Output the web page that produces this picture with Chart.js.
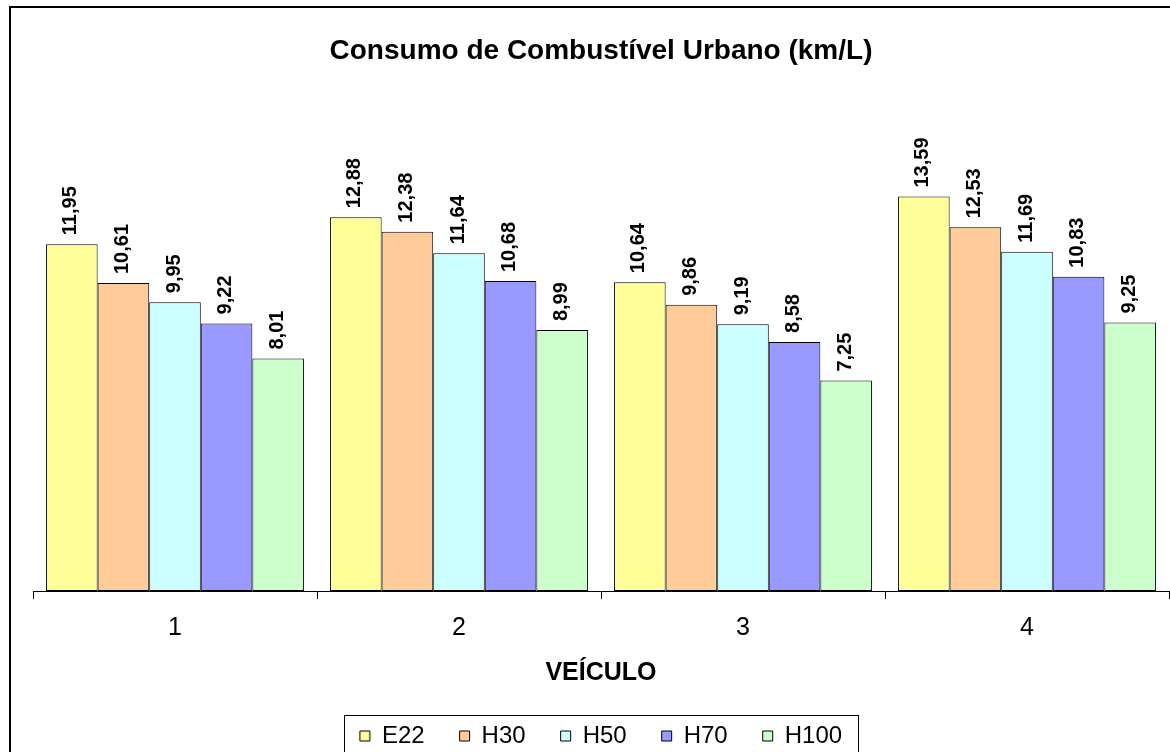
<!DOCTYPE html>
<html lang="pt">
<head>
<meta charset="UTF-8">
<title>Consumo de Combustível Urbano</title>
<script src="https://cdn.jsdelivr.net/npm/chart.js"></script>
<style>
    html, body {
        margin: 0;
        padding: 0;
        background: #fff;
        overflow: hidden;
        width: 1170px;
        height: 752px;
    }
    .wrap {
        position: relative;
        width: 1210px;
        height: 758px;
    }
</style>
</head>
<body>
<div class="wrap">
    <canvas id="chart" width="1210" height="758"></canvas>
</div>
<script>
    // dados
    const veiculos = ['1', '2', '3', '4'];
    const series = ['E22', 'H30', 'H50', 'H70', 'H100'];
    const e22 = [11.95, 12.88, 10.64, 13.59];
    const h30 = [10.61, 12.38, 9.86, 12.53];
    const h50 = [9.95, 11.64, 9.19, 11.69];
    const h70 = [9.22, 10.68, 8.58, 10.83];
    const h100 = [8.01, 8.99, 7.25, 9.25];
    const cores = ['#FFFF99', '#FFCC99', '#CCFFFF', '#9999FF', '#CCFFCC'];

    const FONT = '"Liberation Sans", Arial, sans-serif';
    Chart.defaults.font.family = FONT;
    Chart.defaults.color = '#000';

    const valores = [e22, h30, h50, h70, h100];

    // moldura externa (estilo Excel)
    const moldura = {
        id: 'moldura',
        beforeDraw(chart) {
            const ctx = chart.ctx;
            ctx.save();
            ctx.fillStyle = '#fff';
            ctx.fillRect(0, 0, chart.width, chart.height);
            ctx.strokeStyle = '#000';
            ctx.lineWidth = 2;
            ctx.strokeRect(10, 7, 1190, 800);
            ctx.restore();
        }
    };

    // rótulos verticais acima das barras
    const rotulos = {
        id: 'rotulos',
        afterDatasetsDraw(chart) {
            const ctx = chart.ctx;
            ctx.save();
            ctx.font = 'bold 20px ' + FONT;
            ctx.fillStyle = '#000';
            ctx.textAlign = 'left';
            ctx.textBaseline = 'middle';
            chart.data.datasets.forEach((ds, i) => {
                chart.getDatasetMeta(i).data.forEach((bar, j) => {
                    const txt = ds.data[j].toFixed(2).replace('.', ',');
                    ctx.save();
                    ctx.translate(bar.x - 1, bar.y - 9);
                    ctx.rotate(-Math.PI / 2);
                    ctx.fillText(txt, 0, 0);
                    ctx.restore();
                });
            });
            ctx.restore();
        }
    };

    // caixa em volta da legenda
    const caixaLegenda = {
        id: 'caixaLegenda',
        afterDraw(chart) {
            const hb = chart.legend.legendHitBoxes;
            if (!hb || !hb.length) return;
            const left = Math.min(...hb.map(b => b.left)) - 16;
            const right = Math.max(...hb.map(b => b.left + b.width)) + 16;
            const mid = hb[0].top + hb[0].height / 2;
            const ctx = chart.ctx;
            ctx.save();
            ctx.strokeStyle = '#000';
            ctx.lineWidth = 1;
            ctx.strokeRect(Math.round(left) + 0.5, Math.round(mid - 21) + 0.5, Math.round(right - left), 80);
            ctx.restore();
        }
    };

    new Chart(document.getElementById('chart'), {
        type: 'bar',
        data: {
            labels: veiculos,
            datasets: series.map((nome, i) => ({
                label: nome,
                data: valores[i],
                backgroundColor: cores[i],
                borderColor: '#000',
                borderWidth: 1,
                borderSkipped: false,
                categoryPercentage: 0.908,
                barPercentage: 1
            }))
        },
        options: {
            responsive: false,
            animation: false,
            layout: {
                padding: { left: 33, right: 41, top: 0, bottom: 0 }
            },
            plugins: {
                title: {
                    display: true,
                    text: 'Consumo de Combustível Urbano (km/L)',
                    font: { size: 28, weight: 'bold' },
                    color: '#000',
                    padding: { top: 34, bottom: 59 }
                },
                legend: {
                    position: 'bottom',
                    labels: {
                        boxWidth: 10,
                        boxHeight: 10,
                        padding: 35,
                        font: { size: 24 },
                        color: '#000'
                    }
                },
                tooltip: { enabled: false }
            },
            scales: {
                x: {
                    grid: {
                        display: true,
                        drawOnChartArea: false,
                        drawTicks: true,
                        tickLength: 8,
                        color: '#000',
                        offset: true
                    },
                    border: { display: true, color: '#000', width: 1 },
                    ticks: {
                        font: { size: 25 },
                        color: '#000',
                        padding: 14
                    },
                    title: {
                        display: true,
                        text: 'VEÍCULO',
                        font: { size: 25, weight: 'bold' },
                        color: '#000',
                        padding: { top: 1, bottom: 1 }
                    }
                },
                y: {
                    display: false,
                    min: 0,
                    max: 16
                }
            }
        },
        plugins: [moldura, rotulos, caixaLegenda]
    });
</script>
</body>
</html>
